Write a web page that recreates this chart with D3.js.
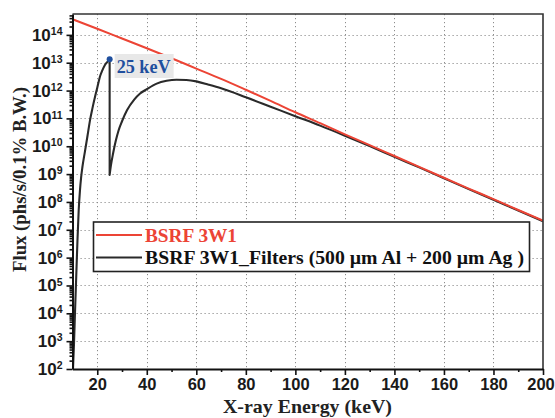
<!DOCTYPE html>
<html>
<head>
<meta charset="utf-8">
<script src="https://cdn.jsdelivr.net/npm/d3@7"></script>
<style>
  html, body { margin: 0; padding: 0; background: #fff; }
  svg { display: block; font-family: "Liberation Serif", "Times New Roman", serif; font-weight: bold; }
</style>
</head>
<body>
<svg id="chart" width="555" height="418"></svg>
<script>
// Undulator source spectrum (BSRF 3W1), photon energy in keV, flux in phs/s/0.1% B.W.
const sourceEnergy = [10, 20, 30, 40, 50, 60, 70, 80, 90, 100, 110, 120, 130, 140, 150, 160, 170, 180, 190, 200];
const sourceFlux   = [3.63e14, 1.66e14, 7.41e13, 3.31e13, 1.45e13, 6.17e12, 2.63e12, 1.07e12, 4.27e11, 1.66e11,
                      6.76e10, 2.69e10, 1.10e10, 4.47e9, 1.82e9, 7.41e8, 3.02e8, 1.26e8, 5.13e7, 2.14e7];

// Same beam after 500 µm Al + 200 µm Ag: below the Ag K-edge (25 keV)
const filteredLowEnergy = [10.2, 10.6, 11.0, 11.5, 12.0, 12.5, 13.0, 13.5, 14.0, 15.0, 16.0, 17.1, 18.0, 19.1, 20.0, 21.1, 22.0, 23.1, 24.0, 25.0];
const filteredLowFlux   = [1e2, 7.9e2, 1e4, 2.0e5, 4.0e6, 5.0e7, 2.5e8, 7.9e8, 1.8e9, 6.3e9, 2.2e10, 8.9e10, 2.2e11, 6.0e11,
                           1.26e12, 3.2e12, 5.2e12, 8.3e12, 1.05e13, 1.32e13];
// ... and above the edge
const filteredHighEnergy = [25.0, 25.5, 26.4, 27.5, 28.6, 30, 32, 35, 37.3, 40, 44, 48, 52, 56, 60, 65, 70, 80, 90, 100,
                            110, 120, 130, 140, 150, 160, 170, 180, 190, 200];
const filteredHighFlux   = [9.3e8, 2.0e9, 5.6e9, 1.6e10, 3.7e10, 7.9e10, 1.95e11, 4.8e11, 7.8e11, 1.12e12, 1.78e12, 2.24e12,
                            2.45e12, 2.4e12, 2.14e12, 1.62e12, 1.2e12, 5.75e11, 2.63e11, 1.2e11, 5.5e10, 2.4e10, 1.02e10,
                            4.17e9, 1.74e9, 7.08e8, 2.88e8, 1.2e8, 4.9e7, 2.04e7];

const edgeEnergy = 25;
const edgeFlux = 1.32e13;
const edgeLabel = "25 keV";

const xTicks = [20, 40, 60, 80, 100, 120, 140, 160, 180, 200];
const xMinorTicks = [30, 50, 70, 90, 110, 130, 150, 170, 190];
const yExponents = [2, 3, 4, 5, 6, 7, 8, 9, 10, 11, 12, 13, 14];

const seriesNames = ["BSRF 3W1", "BSRF 3W1_Filters (500 \u00b5m  Al + 200 \u00b5m Ag )"];
const xTitle = "X-ray Energy (keV)";
const yTitle = "Flux (phs/s/0.1% B.W.)";

const RED = "#ec4435";
const DARK = "#2a2a2a";
const BLUE = "#1f4f9e";

const svg = d3.select("#chart");
const L = 72.5, R = 543, T = 14, B = 369;

const x = d3.scaleLinear().domain([10, 200]).range([L, R]);
const y = d3.scaleLog().domain([1e2, Math.pow(10, 14.75)]).range([B, T]);

// dotted grid
const grid = svg.append("g").attr("stroke", "#8c8c8c").attr("stroke-width", 1).attr("stroke-dasharray", "1.2,2.8");
grid.selectAll("line.v").data(xTicks.filter(d => d < 200)).join("line")
  .attr("x1", d => Math.round(x(d)) + 0.5).attr("x2", d => Math.round(x(d)) + 0.5)
  .attr("y1", T).attr("y2", B);
grid.selectAll("line.h").data(yExponents.filter(e => e > 2)).join("line")
  .attr("x1", L).attr("x2", R)
  .attr("y1", e => Math.round(y(Math.pow(10, e))) + 0.5).attr("y2", e => Math.round(y(Math.pow(10, e))) + 0.5);

// plot clip
svg.append("clipPath").attr("id", "plotClip").append("rect")
  .attr("x", L).attr("y", T).attr("width", R - L).attr("height", B - T);

const line = d3.line().x(d => x(d[0])).y(d => y(d[1])).curve(d3.curveMonotoneX);
const src = sourceEnergy.map((e, i) => [e, sourceFlux[i]]);
const low = filteredLowEnergy.map((e, i) => [e, filteredLowFlux[i]]);
const high = filteredHighEnergy.map((e, i) => [e, filteredHighFlux[i]]);

// filtered spectrum: low branch, vertical drop at the edge, high branch as one path
const plot = svg.append("g").attr("clip-path", "url(#plotClip)");
plot.append("path").attr("d", line(low) + line(high).replace(/^M/, "L"))
  .attr("fill", "none").attr("stroke", DARK).attr("stroke-width", 2.1)
  .attr("stroke-linejoin", "round");
plot.append("path").attr("d", line(src))
  .attr("fill", "none").attr("stroke", RED).attr("stroke-width", 2);

// frame (top and right)
svg.append("path").attr("d", `M${L},${T}H${R}V${B}`)
  .attr("fill", "none").attr("stroke", "#333").attr("stroke-width", 1.6);

// x axis
const xAxis = svg.append("g").attr("transform", `translate(0,${B})`)
  .call(d3.axisBottom(x).tickValues(xTicks).tickSize(6).tickPadding(3).tickSizeOuter(0));
svg.append("g").attr("transform", `translate(0,${B})`)
  .call(d3.axisBottom(x).tickValues(xMinorTicks).tickSize(3).tickFormat("").tickSizeOuter(0))
  .select(".domain").remove();

// y axis
const yMinor = [];
yExponents.forEach(e => { for (let m = 2; m <= 9; m++) { const v = m * Math.pow(10, e); if (v <= y.domain()[1]) yMinor.push(v); } });
const yAxis = svg.append("g").attr("transform", `translate(${L},0)`)
  .call(d3.axisLeft(y).tickValues(yExponents.map(e => Math.pow(10, e))).tickSize(6).tickPadding(4).tickSizeOuter(0));
svg.append("g").attr("transform", `translate(${L},0)`)
  .call(d3.axisLeft(y).tickValues(yMinor).tickSize(3).tickFormat("").tickSizeOuter(0))
  .select(".domain").remove();

svg.selectAll(".tick line").attr("stroke", "#111").attr("stroke-width", 1.6);
svg.selectAll(".domain").attr("stroke", "#111").attr("stroke-width", 2);

xAxis.selectAll("text").attr("font-family", null).attr("font-size", 16.5).attr("fill", "#1a1a1a")
  .attr("dx", d => d === 200 ? -2.5 : 0);
yAxis.selectAll("text").attr("font-family", null).attr("font-size", 17).attr("fill", "#1a1a1a")
  .each(function(d) {
    const t = d3.select(this);
    const e = Math.round(Math.log10(d));
    t.text(null);
    t.append("tspan").text("10");
    t.append("tspan").attr("font-size", 10.5).attr("dy", "-0.55em").text(e);
  });

// edge marker and label
svg.append("rect").attr("x", x(edgeEnergy) + 5).attr("y", 54).attr("width", 59).attr("height", 24)
  .attr("fill", "#e8e8e8");
svg.append("text").attr("x", x(edgeEnergy) + 7).attr("y", y(edgeFlux) + 14)
  .attr("fill", BLUE).attr("font-size", 18.5)
  .attr("textLength", 54).attr("lengthAdjust", "spacingAndGlyphs").text(edgeLabel);
svg.append("circle").attr("cx", x(edgeEnergy)).attr("cy", y(edgeFlux)).attr("r", 3).attr("fill", BLUE);

// legend
const lg = svg.append("g");
lg.append("rect").attr("x", 93.5).attr("y", 222).attr("width", 436).attr("height", 49.5)
  .attr("fill", "#fff").attr("stroke", "#222").attr("stroke-width", 1.6);
const legendWidths = [92, 379];
[RED, DARK].forEach((c, i) => {
  const yy = 235 + i * 22.5;
  lg.append("line").attr("x1", 96).attr("x2", 142).attr("y1", yy).attr("y2", yy)
    .attr("stroke", c).attr("stroke-width", 2);
  lg.append("text").attr("x", 145).attr("y", yy + 6.5).attr("font-size", 18.5)
    .attr("textLength", legendWidths[i]).attr("lengthAdjust", "spacingAndGlyphs")
    .attr("fill", i === 0 ? RED : "#111").text(seriesNames[i]);
});

// axis titles
svg.append("text").attr("x", 223).attr("y", 413)
  .attr("font-size", 19).attr("fill", "#222")
  .attr("textLength", 169).attr("lengthAdjust", "spacingAndGlyphs").text(xTitle);
svg.append("text").attr("transform", "translate(26,272) rotate(-90)")
  .attr("font-size", 18.5).attr("fill", "#222")
  .attr("textLength", 185).attr("lengthAdjust", "spacingAndGlyphs").text(yTitle);
</script>
</body>
</html>
